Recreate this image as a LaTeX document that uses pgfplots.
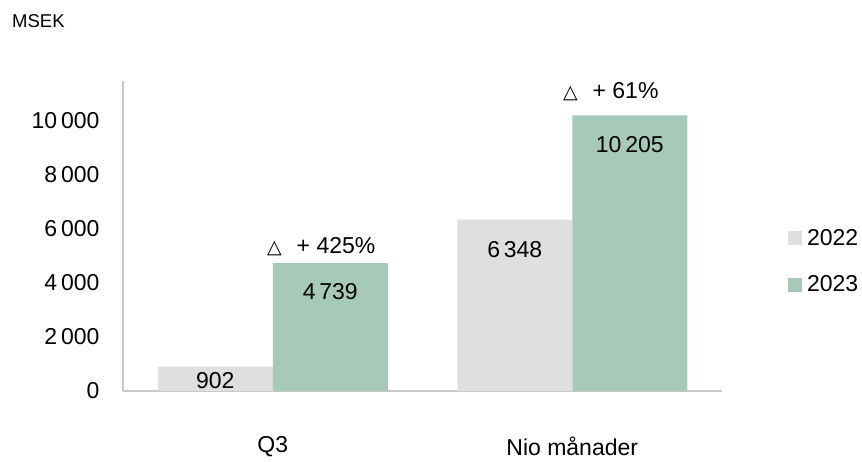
\documentclass[border=0pt]{standalone}
\usepackage{pgfplots}
\pgfplotsset{compat=1.18}
\usepackage{fontspec}
\setmainfont{Liberation Sans}
\newfontfamily\symfont{DejaVu Sans}
\definecolor{bargray}{RGB}{224,223,221}
\definecolor{bargreen}{RGB}{167,201,185}
\definecolor{axisgray}{RGB}{200,200,200}
\newcommand{\chartfont}{\fontsize{23}{27}\selectfont}

\begin{document}
\begin{tikzpicture}[x=1pt,y=1pt]
\useasboundingbox (0,0) rectangle (862,461);
\node[anchor=west, inner sep=0pt, font=\fontsize{18.5}{21}\selectfont] at (12,440) {MSEK};
\begin{axis}[
    at={(123pt,70pt)}, anchor=south west,
    scale only axis, width=599pt, height=310pt,
    xmin=-0.5, xmax=1.5, ymin=0, ymax=11480,
    axis x line*=bottom, axis y line*=left,
    axis line style={axisgray, line width=1.2pt, -},
    xtick={0,1}, xticklabels={Q3, Nio månader},
    ytick={0,2000,...,10000},
    scaled y ticks=false,
    major tick length=0pt,
    tick style={draw=none},
    xticklabel style={yshift=-42pt},
    yticklabel style={xshift=-20pt},
    tick label style={font=\chartfont},
    /pgf/number format/1000 sep={\,},
    /pgf/number format/assume math mode=true,
    clip=false,
    legend style={at={(1.11,0.529)}, anchor=north west, draw=none, fill=none,
        font=\chartfont, row sep=25pt, inner sep=0pt,
        /tikz/every odd column/.append style={column sep=3pt}},
    legend cell align=left,
    legend image code/.code={\fill[#1] (0pt,-7pt) rectangle (14pt,7pt);},
]
    % 2022
    \addplot[ybar, bar width=115pt, bar shift=-57.5pt, fill=bargray, draw=none,
        nodes near coords,
        visualization depends on={rawy \as \rawy},
        every node near coord/.append style={font=\chartfont, anchor=center, text=black,
            xshift=-57.5pt, yshift={ifthenelse(\rawy<2000,-14,-30)}}]
        coordinates {(0,902) (1,6348)};
    \addlegendentry{2022}
    % 2023
    \addplot[ybar, bar width=115pt, bar shift=57.5pt, fill=bargreen, draw=none,
        nodes near coords,
        every node near coord/.append style={font=\chartfont, anchor=center, text=black,
            xshift=57.5pt, yshift=-29pt}]
        coordinates {(0,4739) (1,10205)};
    \addlegendentry{2023}
    % change labels above 2023 bars
    \addplot[ybar, bar width=115pt, bar shift=57.5pt, draw=none, fill=none, forget plot,
        point meta=explicit symbolic,
        nodes near coords,
        visualization depends on={rawy \as \rawy},
        every node near coord/.append style={font=\chartfont, anchor=center, text=black,
            xshift={ifthenelse(\rawy<6000,48.5,38.5)},
            yshift={ifthenelse(\rawy<6000,16,24)}}]
        coordinates {(0,4739) [{{\symfont\fontsize{19}{22}\selectfont △}\hspace{15pt}+ 425\%}]
                     (1,10205) [{{\symfont\fontsize{19}{22}\selectfont △}\hspace{15pt}+ 61\%}]};
\end{axis}
\end{tikzpicture}
\end{document}
